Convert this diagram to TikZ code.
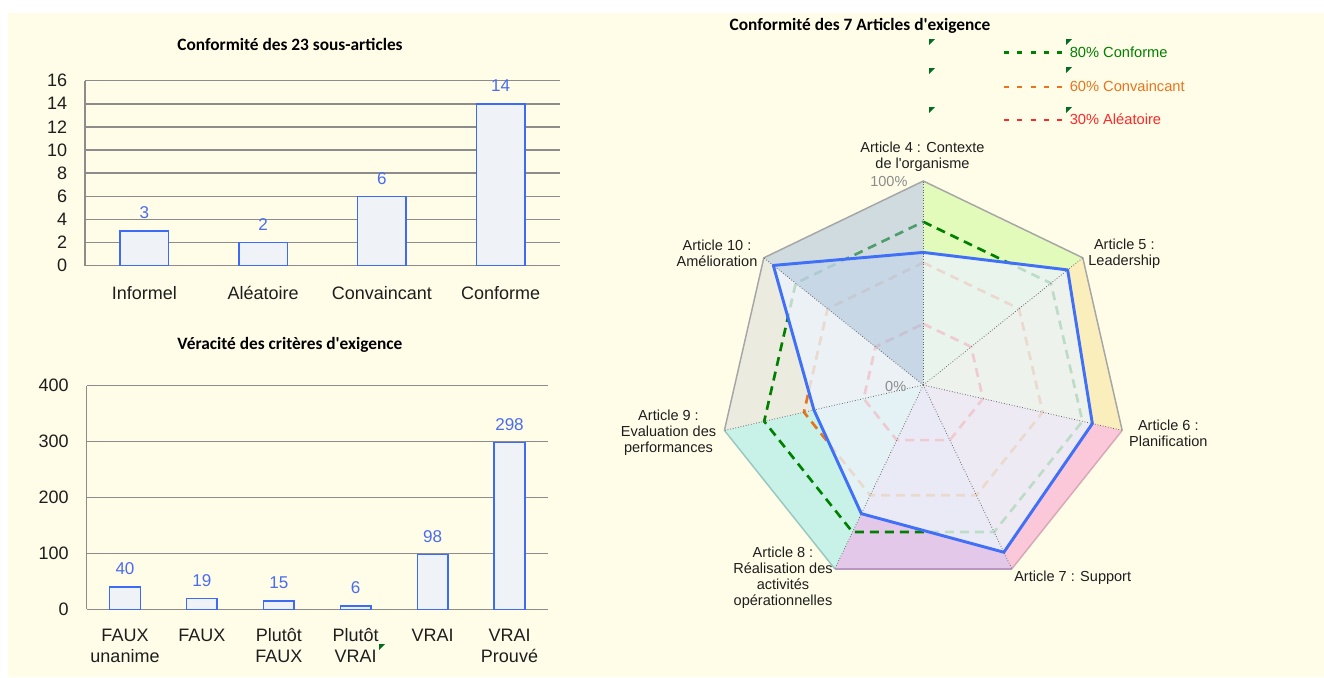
\documentclass[tikz,border=0pt]{standalone}
\usepackage{fontspec}
\setmainfont{Liberation Sans}
\newfontfamily\calib{Carlito}
\usepackage{tikz}

\definecolor{creme}{RGB}{255,253,232}
\definecolor{gridgray}{RGB}{140,140,140}
\definecolor{barfill}{RGB}{239,243,248}
\definecolor{barblue}{RGB}{61,107,245}
\definecolor{valblue}{RGB}{74,108,240}
\definecolor{txtdark}{RGB}{30,30,30}
\definecolor{pctgray}{RGB}{140,140,140}
\definecolor{secA}{RGB}{226,250,186}
\definecolor{secB}{RGB}{250,238,188}
\definecolor{secC}{RGB}{250,200,216}
\definecolor{secD}{RGB}{228,200,234}
\definecolor{secE}{RGB}{200,242,232}
\definecolor{secF}{RGB}{236,235,224}
\definecolor{secG}{RGB}{161,187,216}
\definecolor{polyfill}{RGB}{235,243,250}
\definecolor{polyblue}{RGB}{64,112,248}
\definecolor{refgreen}{RGB}{0,128,0}
\definecolor{reforange}{RGB}{232,116,30}
\definecolor{refred}{RGB}{255,40,40}
\definecolor{flag}{RGB}{0,110,30}

\newcommand\firstln{\rule{0pt}{10.5pt}}

\begin{document}
\begin{tikzpicture}[x=0.75pt,y=0.75pt,yscale=-1,xscale=1,
  gridln/.style={draw=gridgray,line width=1.1pt},
  barbox/.style={draw=barblue,fill=barfill,line width=1.1pt},
  vallbl/.style={text=valblue,font=\fontsize{12.8}{14}\selectfont,inner sep=0pt},
  axlbl/.style={anchor=east,text=txtdark,font=\fontsize{13.5}{15}\selectfont,inner sep=0pt},
  catlbl/.style={anchor=north,align=center,text=txtdark,font=\fontsize{13.5}{15.75}\selectfont,inner sep=0pt},
  charttitle/.style={anchor=base,text=black,font=\calib\bfseries\fontsize{13}{15}\selectfont,inner sep=0pt},
  artlbl/.style={align=center,text=txtdark,font=\fontsize{10.9}{12}\selectfont,inner sep=0pt},
  pctlbl/.style={anchor=east,text=pctgray,font=\fontsize{10.9}{12}\selectfont,inner sep=0pt},
  refline/.style={line width=2pt,dash pattern=on 6.75pt off 4.5pt},
  legdash/.style={line width=1.7pt,dash pattern=on 3.75pt off 6.2pt},
  legtxt/.style={anchor=west,font=\fontsize{11}{12}\selectfont,inner sep=0pt},
  axisdot/.style={draw=black!60,line width=0.6pt,dash pattern=on 0.6pt off 1.4pt},
  flagmark/.style={fill=flag}
]
\useasboundingbox (0,0) rectangle (1324,678);

%Shape: Rectangle (background)
\fill[creme] (8,13) rectangle (1324,677);

%%%%%%%% Bar chart 1 %%%%%%%%
% Text Node
\node[charttitle] (ttlA) at (290,50.6) {Conformité des 23 sous-articles};
%Straight Lines
\draw[gridln] (85,80.7) -- (560,80.7);
\draw[gridln] (85,103.8) -- (560,103.8);
\draw[gridln] (85,126.95) -- (560,126.95);
\draw[gridln] (85,150.1) -- (560,150.1);
\draw[gridln] (85,173.2) -- (560,173.2);
\draw[gridln] (85,196.3) -- (560,196.3);
\draw[gridln] (85,219.45) -- (560,219.45);
\draw[gridln] (85,242.6) -- (560,242.6);
\draw[gridln] (85,265.7) -- (560,265.7);
\draw[gridln] (85,80.7) -- (85,265.7);
% Text Node
\node[axlbl] (yA16) at (67.5,80.7) {16};
\node[axlbl] (yA14) at (67.5,103.8) {14};
\node[axlbl] (yA12) at (67.5,126.95) {12};
\node[axlbl] (yA10) at (67.5,150.1) {10};
\node[axlbl] (yA8) at (67.5,173.2) {8};
\node[axlbl] (yA6) at (67.5,196.3) {6};
\node[axlbl] (yA4) at (67.5,219.45) {4};
\node[axlbl] (yA2) at (67.5,242.6) {2};
\node[axlbl] (yA0) at (67.5,265.7) {0};
%Shape: Rectangle
\draw[barbox] (120.1,231) rectangle (168.7,265.7);
\draw[barbox] (238.8,242.6) rectangle (287.4,265.7);
\draw[barbox] (357.6,196.3) rectangle (406.2,265.7);
\draw[barbox] (476.3,103.8) rectangle (524.9,265.7);
% Text Node
\node[vallbl] (nInf) at (144.4,213) {3};
\node[vallbl] (nAle) at (263.1,224.6) {2};
\node[vallbl] (nCvc) at (381.9,178.3) {6};
\node[vallbl] (nCnf) at (500.6,85.8) {14};
\node[catlbl] (cInf) at (144.4,284.75) {\firstln Informel};
\node[catlbl] (cAle) at (263.1,284.75) {\firstln Aléatoire};
\node[catlbl] (cCvc) at (381.9,284.75) {\firstln Convaincant};
\node[catlbl] (cCnf) at (500.6,284.75) {\firstln Conforme};

%%%%%%%% Bar chart 2 %%%%%%%%
% Text Node
\node[charttitle] (ttlB) at (290,349.6) {Véracité des critères d\textquotesingle exigence};
%Straight Lines
\draw[gridln] (86.5,385.7) -- (548,385.7);
\draw[gridln] (86.5,441.6) -- (548,441.6);
\draw[gridln] (86.5,497.5) -- (548,497.5);
\draw[gridln] (86.5,553.4) -- (548,553.4);
\draw[gridln] (86.5,609.3) -- (548,609.3);
\draw[gridln] (86.5,385.7) -- (86.5,609.3);
% Text Node
\node[axlbl] (yB400) at (69,385.7) {400};
\node[axlbl] (yB300) at (69,441.6) {300};
\node[axlbl] (yB200) at (69,497.5) {200};
\node[axlbl] (yB100) at (69,553.4) {100};
\node[axlbl] (yB0) at (69,609.3) {0};
%Shape: Rectangle
\draw[barbox] (109.7,586.9) rectangle (140.3,609.3);
\draw[barbox] (186.6,598.7) rectangle (217.2,609.3);
\draw[barbox] (263.5,600.9) rectangle (294.1,609.3);
\draw[barbox] (340.4,606) rectangle (371,609.3);
\draw[barbox] (417.3,554.5) rectangle (447.9,609.3);
\draw[barbox] (494.2,442.7) rectangle (524.8,609.3);
% Text Node
\node[vallbl] (nFu) at (125,568.9) {40};
\node[vallbl] (nF) at (201.9,580.7) {19};
\node[vallbl] (nPF) at (278.8,582.9) {15};
\node[vallbl] (nPV) at (355.7,588) {6};
\node[vallbl] (nV) at (432.6,536.5) {98};
\node[vallbl] (nVP) at (509.5,424.7) {298};
\node[catlbl] (cFu) at (125,626.75) {\firstln FAUX\\unanime};
\node[catlbl] (cF) at (201.9,626.75) {\firstln FAUX};
\node[catlbl] (cPF) at (278.8,626.75) {\firstln Plutôt\\FAUX};
\node[catlbl] (cPV) at (355.7,626.75) {\firstln Plutôt\\VRAI};
\node[catlbl] (cV) at (432.6,626.75) {\firstln VRAI};
\node[catlbl] (cVP) at (509.5,626.75) {\firstln VRAI\\Prouvé};
%Shape: Triangle
\fill[flagmark] (379,644) -- (385,644) -- (379,650) -- cycle;

%%%%%%%% Radar chart %%%%%%%%
% Text Node
\node[charttitle] (ttlC) at (860,30.6) {Conformité des 7 Articles d\textquotesingle exigence};
% legend
\draw[legdash,refgreen] (1004,52.5) -- (1062,52.5);
\draw[legdash,reforange] (1004,87) -- (1062,87);
\draw[legdash,refred] (1004,120) -- (1062,120);
\node[legtxt,text=refgreen] (lgA) at (1069.5,52.3) {80\% Conforme};
\node[legtxt,text=reforange] (lgB) at (1069.5,86) {60\% Convaincant};
\node[legtxt,text=refred] (lgC) at (1069.5,119.3) {30\% Aléatoire};
%Shape: Triangle
\fill[flagmark] (929,39) -- (935,39) -- (929,45) -- cycle;
\fill[flagmark] (929,68) -- (935,68) -- (929,74) -- cycle;
\fill[flagmark] (929,107) -- (935,107) -- (929,113) -- cycle;
\fill[flagmark] (1066,39) -- (1072,39) -- (1066,45) -- cycle;
\fill[flagmark] (1066,67) -- (1072,67) -- (1066,73) -- cycle;
\fill[flagmark] (1066,107) -- (1072,107) -- (1066,113) -- cycle;

% axes ends and data points
\coordinate (ctr) at (923.3,385);
\coordinate (a4) at (923.3,181);
\coordinate (a5) at (1082.79,257.81);
\coordinate (a6) at (1122.19,430.39);
\coordinate (a7) at (1011.81,568.8);
\coordinate (a8) at (834.79,568.8);
\coordinate (a9) at (724.41,430.39);
\coordinate (a10) at (763.81,257.81);
\coordinate (b4) at (923.3,252.4);
\coordinate (b5) at (1067.63,269.9);
\coordinate (b6) at (1092.35,423.59);
\coordinate (b7) at (1003.83,552.22);
\coordinate (b8) at (861.34,513.66);
\coordinate (b9) at (813.91,409.97);
\coordinate (b10) at (773.34,265.41);

%Shape: sectors
\fill[secA] (ctr) -- (a4) -- (a5) -- cycle;
\fill[secB] (ctr) -- (a5) -- (a6) -- cycle;
\fill[secC] (ctr) -- (a6) -- (a7) -- cycle;
\fill[secD] (ctr) -- (a7) -- (a8) -- cycle;
\fill[secE] (ctr) -- (a8) -- (a9) -- cycle;
\fill[secF] (ctr) -- (a9) -- (a10) -- cycle;

%Shape: reference levels
\draw[refline,refred] (923.3,323.8) -- (971.15,346.84) -- (982.97,398.62) -- (949.85,440.14) -- (896.75,440.14) -- (863.63,398.62) -- (875.45,346.84) -- cycle;
\draw[refline,reforange] (923.3,262.6) -- (1019,308.68) -- (1042.63,412.24) -- (976.41,495.28) -- (870.19,495.28) -- (803.97,412.24) -- (827.6,308.68) -- cycle;
\draw[refline,refgreen] (923.3,221.8) -- (1050.9,283.25) -- (1082.41,421.32) -- (994.11,532.04) -- (852.49,532.04) -- (764.19,421.32) -- (795.7,283.25) -- cycle;

%Shape: data area
\fill[polyfill,fill opacity=0.8] (b4) -- (b5) -- (b6) -- (b7) -- (b8) -- (b9) -- (b10) -- cycle;
\fill[secG,fill opacity=0.5] (ctr) -- (a10) -- (a4) -- cycle;
\draw[polyblue,line width=2.2pt,line join=round] (b4) -- (b5) -- (b6) -- (b7) -- (b8) -- (b9) -- (b10) -- cycle;

%Straight Lines (outer border)
\draw[line width=1.1pt,draw=black!35] (a9) -- (a10) -- (a4) -- (a5) -- (a6);
\draw[line width=1.1pt,draw={rgb,255:red,216;green,168;blue,184}] (a6) -- (a7);
\draw[line width=1.1pt,draw={rgb,255:red,184;green,152;blue,192}] (a7) -- (a8);
\draw[line width=1.1pt,draw={rgb,255:red,152;green,200;blue,192}] (a8) -- (a9);

%Straight Lines (axes)
\draw[axisdot] (ctr) -- (a4);
\draw[axisdot] (ctr) -- (a5);
\draw[axisdot] (ctr) -- (a6);
\draw[axisdot] (ctr) -- (a7);
\draw[axisdot] (ctr) -- (a8);
\draw[axisdot] (ctr) -- (a9);
\draw[axisdot] (ctr) -- (a10);

% Text Node
\node[pctlbl] (p100) at (907.7,181.7) {100\%};
\node[pctlbl] (p0) at (906.5,386) {0\%};
\node[artlbl] (art4) at (922.5,157) {Article 4 : Contexte\\de l\textquotesingle organisme};
\node[artlbl] (art5) at (1124.3,253.5) {Article 5 :\\Leadership};
\node[artlbl] (art6) at (1168.3,433.5) {Article 6 :\\Planification};
\node[artlbl,anchor=west] (art7) at (1014,577.7) {Article 7 : Support};
\node[artlbl] (art8) at (783,577.5) {Article 8 :\\Réalisation des\\activités\\opérationnelles};
\node[artlbl] (art9) at (668.5,433) {Article 9 :\\Evaluation des\\performances};
\node[artlbl] (art10) at (717,253.5) {Article 10 :\\Amélioration};

\end{tikzpicture}
\end{document}
